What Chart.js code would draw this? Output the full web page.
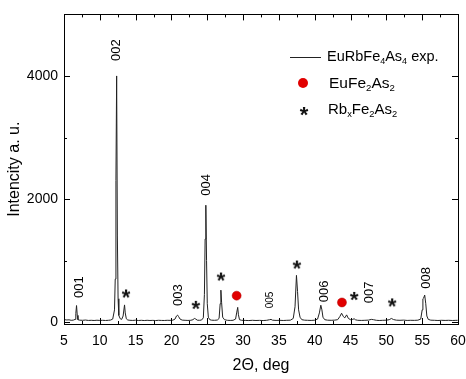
<!DOCTYPE html>
<html>
<head>
<meta charset="utf-8">
<script src="https://cdn.jsdelivr.net/npm/chart.js@4"></script>
<style>
  html, body { margin: 0; padding: 0; background: #fff; }
  #wrap { width: 466px; height: 379px; }
</style>
</head>
<body>
<div id="wrap"><canvas id="xrdChart" width="466" height="379"></canvas></div>
<script>
// XRD pattern, EuRbFe4As4

const twoTheta = [5.1, 5.4, 5.7, 6.0, 6.3, 6.55, 6.65, 6.75, 6.85, 6.95, 7.2, 7.6, 8.0, 8.4, 8.8, 9.2, 9.6, 10.0, 10.4, 10.8, 11.2, 11.5, 11.8, 12.05,
  12.15, 12.25, 12.35, 12.45, 12.55, 12.65, 12.85, 13.05, 13.25, 13.45, 13.55, 13.7, 13.9, 14.2, 14.6, 15.0, 15.4, 15.8, 16.2, 16.6, 17.0, 17.4,
  17.8, 18.2, 18.6, 19.0, 19.4, 19.8, 20.2, 20.5, 20.7, 20.85, 21.0, 21.2, 21.5, 21.9, 22.3, 22.7, 23.0, 23.2, 23.4, 23.6, 23.9, 24.2, 24.45,
  24.6, 24.7, 24.8, 24.9, 25.0, 25.15, 25.35, 25.6, 26.0, 26.4, 26.65, 26.8, 26.9, 27.0, 27.15, 27.4, 27.8, 28.2, 28.6, 28.95, 29.1, 29.25,
  29.35, 29.5, 29.8, 30.3, 30.8, 31.3, 31.8, 32.3, 32.8, 33.3, 33.7, 33.9, 34.1, 34.6, 35.1, 35.6, 36.1, 36.6, 37.0, 37.25, 37.45, 37.6, 37.75,
  37.95, 38.2, 38.6, 39.0, 39.5, 40.0, 40.4, 40.65, 40.85, 41.0, 41.15, 41.4, 41.8, 42.3, 42.8, 43.2, 43.5, 43.75, 44.0, 44.2, 44.45, 44.7,
  45.0, 45.3, 45.5, 45.7, 46.0, 46.5, 47.0, 47.5, 47.9, 48.2, 48.6, 49.0, 49.5, 50.0, 50.4, 50.7, 51.0, 51.4, 51.9, 52.4, 52.9, 53.4, 53.9,
  54.4, 54.8, 55.0, 55.1, 55.2, 55.35, 55.5, 55.65, 55.85, 56.2, 56.7, 57.2, 57.7, 58.2, 58.7, 59.2, 59.7, 59.95];

const intensity = [40, 35, 38, 30, 33, 45, 140, 270, 110, 40, 32, 30, 34, 28, 30, 27, 31, 28, 30, 27, 30, 34, 50, 200,
  700, 2300, 4000, 1400, 380, 110, 55, 45, 100, 280, 150, 55, 35, 30, 28, 32, 27, 30, 26, 30, 27, 29,
  26, 30, 28, 27, 30, 29, 32, 50, 100, 115, 90, 50, 33, 30, 28, 30, 40, 60, 50, 32, 30, 34, 70,
  450, 1350, 1900, 1000, 300, 80, 40, 32, 30, 34, 60, 300, 520, 320, 80, 40, 30, 28, 30, 50, 150, 240,
  120, 40, 30, 28, 26, 30, 27, 29, 26, 30, 40, 45, 32, 28, 30, 27, 30, 32, 60, 250, 760, 500, 200,
  80, 40, 32, 30, 28, 32, 50, 150, 275, 200, 80, 40, 32, 30, 33, 40, 90, 145, 90, 70, 118, 60,
  40, 45, 55, 38, 30, 28, 30, 33, 45, 40, 30, 27, 30, 32, 40, 60, 42, 32, 30, 33, 28, 30, 29,
  32, 50, 200, 380, 390, 440, 300, 100, 45, 32, 30, 27, 30, 28, 30, 27, 29, 30];

// phase markers
const eufe2as2X = [29.1, 43.8];
const eufe2as2Y = [430, 320];
const rbfe2as2X = [13.65, 23.4, 26.9, 37.5, 45.5, 50.8];
const rbfe2as2Y = [450, 265, 725, 920, 410, 305];

// reflection labels (centre of rotated text, data units)
const hklNames = ['001', '002', '003', '004', '005', '006', '007', '008'];
const hklX = [7.2, 12.35, 21.0, 24.85, 33.8, 41.4, 47.7, 55.6];
const hklY = [570, 4420, 440, 2230, 360, 500, 485, 720];

const xTicks = [5, 10, 15, 20, 25, 30, 35, 40, 45, 50, 55, 60];
const yTicks = [0, 2000, 4000];

const FONT = '"Liberation Sans", Arial, sans-serif';

// asterisk marker as an image
const starImg = document.createElement('canvas');
starImg.width = 14; starImg.height = 14;
(function () {
  const c = starImg.getContext('2d');
  c.fillStyle = '#111';
  c.font = 'bold 22px ' + FONT;
  c.textAlign = 'center';
  c.textBaseline = 'middle';
  c.fillText('*', 7, 11);
})();

const drawRich = (ctx, parts, x, y, size) => {
  let cx = x;
  parts.forEach(p => {
    const sub = p[1];
    ctx.font = (sub ? size * 0.62 : size) + 'px ' + FONT;
    ctx.fillText(p[0], cx, sub ? y + size * 0.3 : y);
    cx += ctx.measureText(p[0]).width;
  });
};

const framePlugin = {
  id: 'frame',
  afterDraw(chart) {
    const ctx = chart.ctx;
    const a = chart.chartArea;
    const xs = chart.scales.x, ys = chart.scales.y;
    ctx.save();
    ctx.strokeStyle = '#000';
    ctx.lineWidth = 1;
    ctx.strokeRect(Math.round(a.left) + 0.5, Math.round(a.top) + 0.5,
      Math.round(a.right - a.left), Math.round(a.bottom - a.top));
    ctx.beginPath();
    for (let v = 5; v <= 60; v += 2.5) {
      const px = Math.round(xs.getPixelForValue(v)) + 0.5;
      const len = (v % 5 === 0) ? 6 : 3;
      ctx.moveTo(px, a.bottom); ctx.lineTo(px, a.bottom - len);
      ctx.moveTo(px, a.top); ctx.lineTo(px, a.top + len);
    }
    for (let v = 0; v <= 5000; v += 1000) {
      const py = Math.round(ys.getPixelForValue(v)) + 0.5;
      const len = (v % 2000 === 0) ? 6 : 3;
      ctx.moveTo(a.left, py); ctx.lineTo(a.left + len, py);
      ctx.moveTo(a.right, py); ctx.lineTo(a.right - len, py);
    }
    ctx.stroke();

    // hkl labels
    ctx.fillStyle = '#000';
    ctx.textAlign = 'center';
    ctx.textBaseline = 'middle';
    hklNames.forEach((n, i) => {
      ctx.save();
      ctx.translate(xs.getPixelForValue(hklX[i]), ys.getPixelForValue(hklY[i]));
      ctx.rotate(-Math.PI / 2);
      ctx.font = (n === '005' ? 10 : 13) + 'px ' + FONT;
      ctx.fillText(n, 0, 0);
      ctx.restore();
    });

    // legend
    ctx.textAlign = 'left';
    ctx.strokeStyle = '#222';
    ctx.beginPath();
    ctx.moveTo(290, 57.5); ctx.lineTo(321, 57.5);
    ctx.stroke();
    drawRich(ctx, [['EuRbFe'], ['4', 1], ['As'], ['4', 1], [' exp.']], 327, 57, 14.5);
    ctx.fillStyle = '#e10000';
    ctx.beginPath();
    ctx.arc(303, 83, 5, 0, Math.PI * 2);
    ctx.fill();
    ctx.fillStyle = '#000';
    drawRich(ctx, [['EuFe'], ['2', 1], ['As'], ['2', 1]], 329, 84, 15.5);
    ctx.drawImage(starImg, 297, 105);
    drawRich(ctx, [['Rb'], ['x', 1], ['Fe'], ['2', 1], ['As'], ['2', 1]], 328, 110, 15);
    ctx.restore();
  }
};

new Chart(document.getElementById('xrdChart'), {
  type: 'line',
  data: {
    datasets: [
      {
        label: 'EuRbFe4As4 exp.',
        data: twoTheta.map((t, i) => ({ x: t, y: intensity[i] })),
        borderColor: '#222',
        borderWidth: 1,
        pointRadius: 0,
        tension: 0,
        fill: false,
        order: 2
      },
      {
        label: 'EuFe2As2',
        type: 'scatter',
        data: eufe2as2X.map((t, i) => ({ x: t, y: eufe2as2Y[i] })),
        pointStyle: 'circle',
        pointRadius: 4.5,
        backgroundColor: '#e10000',
        borderColor: '#b00000',
        borderWidth: 0.5,
        order: 1
      },
      {
        label: 'RbxFe2As2',
        type: 'scatter',
        data: rbfe2as2X.map((t, i) => ({ x: t, y: rbfe2as2Y[i] })),
        pointStyle: starImg,
        order: 1
      }
    ]
  },
  options: {
    responsive: false,
    animation: false,
    layout: { padding: { top: 13, right: 8, left: 0, bottom: 0 } },
    plugins: {
      legend: { display: false },
      tooltip: { enabled: false }
    },
    scales: {
      x: {
        type: 'linear',
        min: 5,
        max: 60,
        afterBuildTicks: (s) => { s.ticks = xTicks.map(v => ({ value: v })); },
        afterFit: (s) => { s.height = 55; s.paddingLeft = 0; s.paddingRight = 0; },
        grid: { display: false, drawTicks: false },
        border: { display: false },
        ticks: { color: '#000', font: { family: FONT, size: 14 }, padding: 9, maxRotation: 0 },
        title: { display: true, text: '2Θ, deg', color: '#000', font: { family: FONT, size: 16 }, padding: { top: 9 } }
      },
      y: {
        min: -30,
        max: 5000,
        afterBuildTicks: (s) => { s.ticks = yTicks.map(v => ({ value: v })); },
        afterFit: (s) => { s.width = 64; },
        grid: { display: false, drawTicks: false },
        border: { display: false },
        ticks: { color: '#000', font: { family: FONT, size: 14 }, padding: 6, callback: (v) => String(v) },
        title: { display: true, text: 'Intencity a. u.', color: '#000', font: { family: FONT, size: 16 }, padding: { top: 5, bottom: 0 } }
      }
    }
  },
  plugins: [framePlugin]
});
</script>
</body>
</html>
